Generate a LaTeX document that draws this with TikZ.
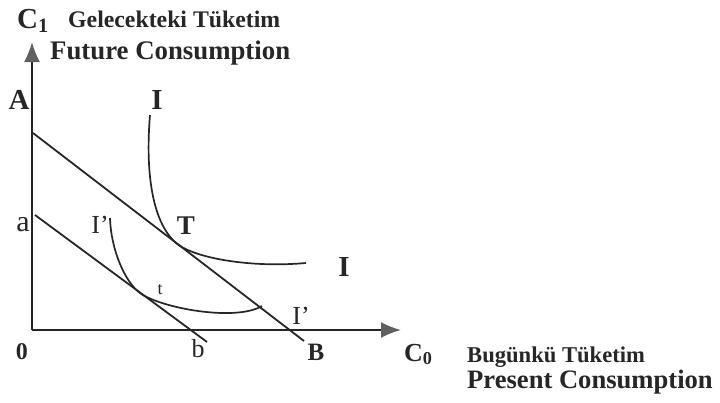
\documentclass[tikz,border=0pt]{standalone}
\usepackage{fontspec}
\setmainfont{Liberation Serif}
\usetikzlibrary{arrows.meta}
\definecolor{ink}{HTML}{262626}
\definecolor{tipgray}{HTML}{606060}
\begin{document}
\begin{tikzpicture}[x=1pt,y=-1pt,
  line/.style={draw=ink,line width=1.8pt},
  curve/.style={draw=ink,line width=1.7pt},
  axis/.style={draw=ink,line width=1.8pt,-{Latex[length=20pt,width=16pt,color=tipgray]}},
  lbl/.style={inner sep=0pt,text=ink,font=\fontsize{27}{27}\selectfont\bfseries},
  lblr/.style={inner sep=0pt,text=ink,font=\fontsize{26}{26}\selectfont},
  txt/.style={inner sep=0pt,text=ink,anchor=base west}]
\useasboundingbox (0,0) rectangle (720,402);
\fill[white] (0,0) rectangle (720,402);
% axes
\coordinate (O) at (32,330);
\coordinate (Ytop) at (32,42);
\coordinate (Xend) at (401,330);
\draw[axis] (O) -- (Ytop);
\draw[axis] (O) -- (Xend);
% budget lines
\coordinate (A0) at (33,133);
\coordinate (B1) at (304,341);
\coordinate (a0) at (35,215);
\coordinate (b1) at (207,342);
\draw[line] (A0) -- (B1);
\draw[line] (a0) -- (b1);
% indifference curve I
\coordinate (Is) at (150,115);
\coordinate (Tp) at (178,244.5);
\coordinate (Ie) at (306,263);
\draw[curve] (Is) .. controls (145,175) and (153,225.4) .. (Tp)
  .. controls (196,258) and (250,268) .. (Ie);
% indifference curve I'
\coordinate (Js) at (110,218);
\coordinate (tp) at (140,293);
\coordinate (Je) at (262,306);
\draw[curve] (Js) .. controls (111,250) and (125,282) .. (tp)
  .. controls (160,307.8) and (235,322) .. (Je);
% labels
\node[lbl,font=\fontsize{29}{29}\selectfont\bfseries] (lA) at (19,100) {A};
\node[lblr,font=\fontsize{30}{30}\selectfont] (la) at (23,225) {a};
\node[lbl,font=\fontsize{29}{29}\selectfont\bfseries] (lI1) at (157,100) {I};
\node[lbl] (lT) at (186,226) {T};
\node[lbl,font=\fontsize{29}{29}\selectfont\bfseries] (lI2) at (344,267) {I};
\node[lblr] (lJ1) at (100,225) {I’};
\node[lblr,font=\fontsize{18}{18}\selectfont] (lt) at (160,290) {t};
\node[lblr] (lJ2) at (301,316) {I’};
\node[lbl,font=\fontsize{24}{24}\selectfont\bfseries] (l0) at (22,352) {0};
\node[lblr] (lb) at (198,349) {b};
\node[lbl,font=\fontsize{25}{25}\selectfont\bfseries] (lB) at (316,352) {B};
% axis titles
\node[txt,font=\fontsize{29}{29}\selectfont\bfseries] (C1) at (17,28) {C\textsubscript{1}};
\node[txt,font=\bfseries] (gel) at (68,27) {\resizebox{212pt}{!}{Gelecekteki Tüketim}};
\node[txt,font=\fontsize{26.8}{27}\selectfont\bfseries] (fut) at (50,59) {Future Consumption};
\node[txt,font=\fontsize{26}{26}\selectfont\bfseries] (C0) at (404,361) {C\textsubscript{0}};
\node[txt,font=\fontsize{22.6}{23}\selectfont\bfseries] (bug) at (467,362) {Bugünkü Tüketim};
\node[txt,font=\fontsize{26.6}{27}\selectfont\bfseries] (pre) at (467,388) {Present Consumption};
\end{tikzpicture}
\end{document}
